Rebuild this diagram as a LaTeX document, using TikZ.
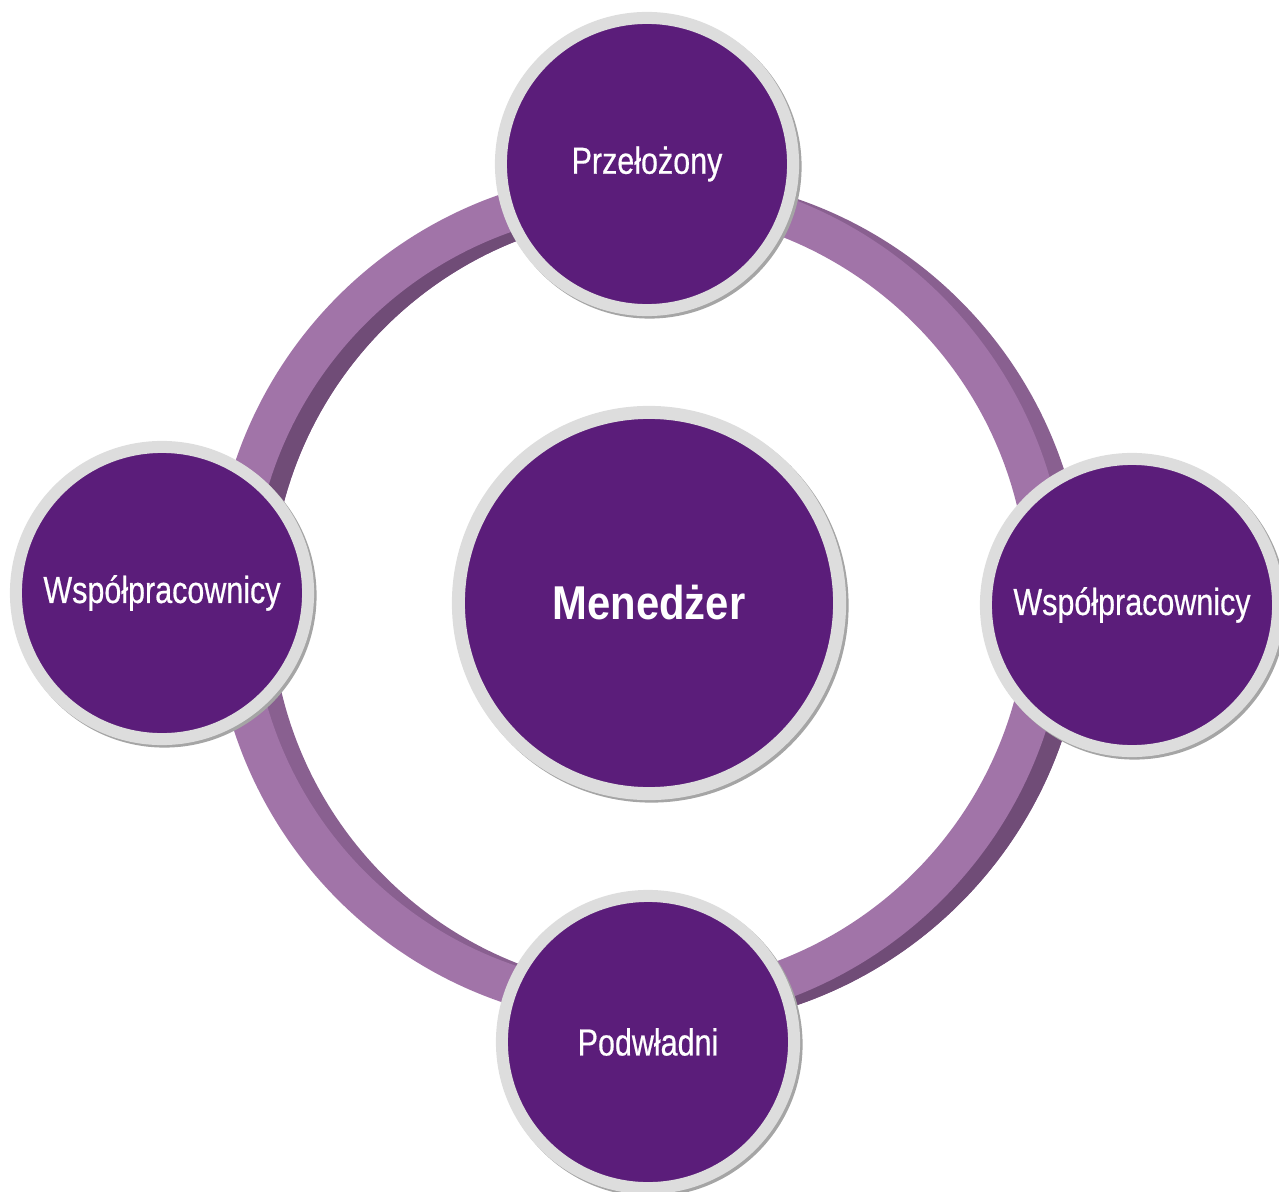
\documentclass[tikz,border=0pt]{standalone}
\usepackage{fontspec}
\setmainfont{Liberation Sans}
\newfontfamily\narrowsans{Liberation Sans}[FakeStretch=0.81, FakeBold=0.5]
\newfontfamily\widesans{Liberation Sans}[FakeStretch=0.88]
\usetikzlibrary{calc}
\definecolor{plum}{RGB}{91,29,122}
\definecolor{rim}{RGB}{221,221,221}
\definecolor{rimshade}{RGB}{165,165,165}
\definecolor{ringface}{RGB}{161,116,168}
\definecolor{ringside}{RGB}{112,76,119}
\definecolor{ringsidelight}{RGB}{137,96,144}
\tikzset{
    bubble/.style={circle, inner sep=0pt, minimum size=2.92cm,
        fill=plum, draw=rim, line width=0.12cm, text=white,
        font=\narrowsans\fontsize{10.7}{12}\selectfont,
        preaction={draw=rimshade, transform canvas={shift={(0.025cm,-0.025cm)}}}},
    hub/.style={bubble, minimum size=3.81cm, line width=0.13cm,
        font=\widesans\bfseries\fontsize{13.5}{15}\selectfont},
    ringpart/.style={even odd rule},
}

\begin{document}
\begin{tikzpicture}[x=0.01cm, y=-0.01cm]
    \useasboundingbox (0,0) rectangle (1279,1191);

    \coordinate (ring) at (640,598);
    \coordinate (ringside) at ($(ring)+(19,4)$);

    % side of the ring, two tones
    \fill[ringsidelight, ringpart] (ringside) circle[radius=426] circle[radius=388];
    \begin{scope}
        \clip (0,0) rectangle (ring) (ring) rectangle (1279,1191);
        \fill[ringside, ringpart] (ringside) circle[radius=426] circle[radius=388];
    \end{scope}
    \fill[ringface, ringpart] (ring) circle[radius=427] circle[radius=388];

    \node[hub] (mgr) at (649,603) {Menedżer};
    \node[bubble] (boss) at (647,164) {Przełożony};
    \node[bubble] (peerL) at (162,593) {Współpracownicy};
    \node[bubble] (peerR) at (1132,605) {Współpracownicy};
    \node[bubble] (sub) at (648,1042) {Podwładni};
\end{tikzpicture}
\end{document}
